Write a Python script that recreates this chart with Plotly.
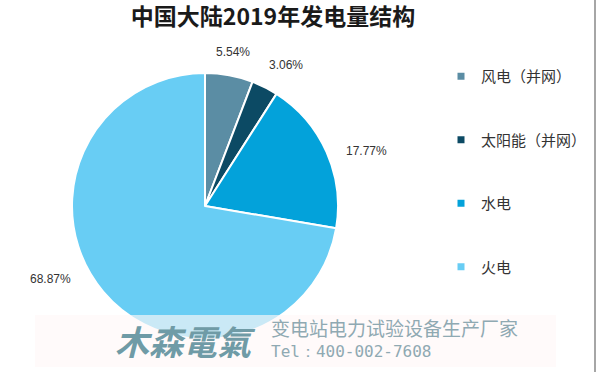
import math
import plotly.graph_objects as go

categories = ["风电（并网）", "太阳能（并网）", "水电", "火电"]
shares = [5.54, 3.06, 17.77, 68.87]
colors = ["#5b8da4", "#0c4a64", "#03a2da", "#68cdf4"]

W, H = 600, 372
# pie geometry (pixels) - layout styling
CX, CY, R = 205, 206, 133
LABEL_GAP = 13
label_nudge_deg = [0, 3, 5, 15]
label_w = [42, 42, 48, 48]

def px(x):
    return x / W
def py(y):
    return 1 - y / H

fig = go.Figure()
fig.add_trace(go.Pie(
    labels=categories, values=shares, sort=False, direction="clockwise", rotation=0,
    marker=dict(colors=colors, line=dict(color="white", width=2)),
    textinfo="none",
    domain=dict(x=[px(CX - R), px(CX + R)], y=[py(CY + R), py(CY - R)]),
    showlegend=False, hoverinfo="label+value",
))

# outside-end data labels, positioned from each slice's mid angle
total = sum(shares)
cum = 0.0
for v, nd, lw in zip(shares, label_nudge_deg, label_w):
    mid = (cum + v / 2) / total * 360 + nd
    cum += v
    th = math.radians(mid)
    ux, uy = math.sin(th), -math.cos(th)
    support = abs(ux) * lw / 2 + abs(uy) * 7
    rr = R + LABEL_GAP + support
    fig.add_annotation(xref="paper", yref="paper",
                       x=px(CX + rr * ux), y=py(CY + rr * uy),
                       xanchor="center", yanchor="middle",
                       text=f"{v:.2f}%", showarrow=False,
                       font=dict(family="Liberation Sans, Arial", size=12, color="#333333"))

for i, (c, col) in enumerate(zip(categories, colors)):
    fig.add_trace(go.Scatter(
        x=[None], y=[None], mode="markers", name=c, legendgroup=str(i),
        marker=dict(symbol="square", size=7, color=col),
    ))

fig.add_shape(type="rect", xref="paper", yref="paper",
              x0=px(35), x1=px(556), y0=py(367), y1=py(315),
              fillcolor="rgba(255,247,247,0.65)", line=dict(width=0), layer="above")
fig.add_shape(type="line", xref="paper", yref="paper",
              x0=px(595), x1=px(595), y0=0, y1=1,
              line=dict(color="#a6a6a6", width=2))

fig.add_annotation(xref="paper", yref="paper", x=px(185), y=py(340),
                   xanchor="center", yanchor="middle",
                   text="<b><i>木森電氣</i></b>", showarrow=False,
                   font=dict(family="Noto Sans CJK SC", size=34, color="#6f9ba6"))
fig.add_annotation(xref="paper", yref="paper", x=px(269), y=py(327),
                   xanchor="left", yanchor="middle",
                   text="变电站电力试验设备生产厂家", showarrow=False,
                   font=dict(family="Noto Sans CJK SC", size=19, color="#8fa9b2"))
fig.add_annotation(xref="paper", yref="paper", x=px(269), y=py(351),
                   xanchor="left", yanchor="middle",
                   text="Tel：400-002-7608", showarrow=False,
                   font=dict(family="DejaVu Sans Mono", size=16, color="#8fa9b2"))

fig.update_layout(
    width=W, height=H, margin=dict(l=0, r=0, t=0, b=0),
    paper_bgcolor="white", plot_bgcolor="white",
    title=dict(text="<b>中国大陆2019年发电量结构</b>", x=px(273), xanchor="center",
               y=py(17), yanchor="middle",
               font=dict(family="Noto Sans CJK SC", size=23, color="#1a1a1a")),
    xaxis=dict(visible=False), yaxis=dict(visible=False),
    legend=dict(x=px(441), xanchor="left", y=py(60), yanchor="top",
                tracegroupgap=41, itemwidth=30,
                font=dict(family="Noto Sans CJK SC", size=15, color="#333333"),
                bgcolor="rgba(0,0,0,0)"),
)
fig.write_html("out.html", config={"displayModeBar": False},
               post_script="document.body.style.margin='0';")
